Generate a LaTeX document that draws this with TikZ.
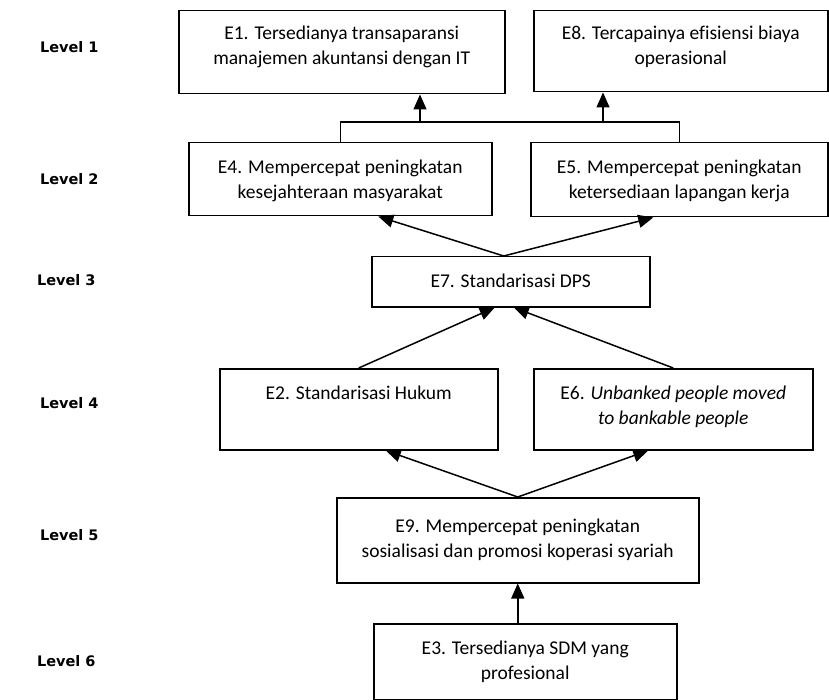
\documentclass[tikz,border=0pt]{standalone}
\usepackage{fontspec}
\setmainfont[Ligatures=CommonOff]{Carlito}
\newfontfamily\levelfont{DejaVu Sans}
\usetikzlibrary{arrows.meta}

% isi kotak: [jarak baris pertama]{lebar}{tinggi}{teks}
\newcommand{\isi}[4][31pt]{\parbox[c][#3][t]{#2}{\centering\rule{0pt}{#1}#4}}

\tikzset{
  kotak/.style={draw,line width=1.5pt,inner sep=0pt,anchor=north west,
    font=\fontsize{19.5}{25}\selectfont},
  level/.style={anchor=west,font=\levelfont\bfseries\fontsize{14.5}{16}\selectfont},
}

\begin{document}
\begin{tikzpicture}[x=1pt,y=-1pt,>={Triangle[length=15pt,width=13pt]},line width=1.5pt]
  \useasboundingbox (0,0) rectangle (829,700);
  % level
  \node[level] (lv1) at (36,47) {Level 1};
  \node[level] (lv2) at (36,179) {Level 2};
  \node[level] (lv3) at (33,280) {Level 3};
  \node[level] (lv4) at (36,403) {Level 4};
  \node[level] (lv5) at (36,535) {Level 5};
  \node[level] (lv6) at (33,661) {Level 6};
  % kotak
  \node[kotak] (e1) at (178,10) {\isi[29pt]{326pt}{83pt}{E1. Tersedianya transaparansi\\manajemen akuntansi dengan IT}};
  \node[kotak] (e8) at (533,10) {\isi[29pt]{294pt}{81pt}{E8. Tercapainya efisiensi biaya\\operasional}};
  \node[kotak] (e4) at (188,142) {\isi{303pt}{73pt}{E4. Mempercepat peningkatan\\kesejahteraan masyarakat}};
  \node[kotak] (e5) at (530,142) {\isi{297pt}{74pt}{E5. Mempercepat peningkatan\\ketersediaan lapangan kerja}};
  \node[kotak] (e7) at (371,256) {\isi{278pt}{50pt}{E7. Standarisasi DPS}};
  \node[kotak] (e2) at (219,368) {\isi{278pt}{81pt}{E2. Standarisasi Hukum}};
  \node[kotak] (e6) at (533,368) {\isi{279pt}{81pt}{E6. \textit{Unbanked people moved}\\\textit{to bankable people}}};
  \node[kotak] (e9) at (336,497) {\isi[35pt]{362pt}{85pt}{E9. Mempercepat peningkatan\\sosialisasi dan promosi koperasi syariah}};
  \node[kotak] (e3) at (373,623) {\isi{303pt}{76pt}{E3. Tersedianya SDM yang\\profesional}};
  % panah
  \draw (e4.north) -- ++(0,-20) -| (e5.north);
  \coordinate (ke1) at (420,122);
  \coordinate (ke8) at (603,122);
  \draw[->] (ke1) -- (ke1 |- e1.south);
  \draw[->] (ke8) -- (ke8 |- e8.south);
  \draw[->] ([xshift=-7pt]e7.north) -- ([xshift=38pt]e4.south);
  \draw[->] ([xshift=-7pt]e7.north) -- ([xshift=-26pt]e5.south);
  \draw[->] (e2.north) -- ([xshift=-16pt]e7.south);
  \draw[->] (e6.north) -- ([xshift=3pt]e7.south);
  \draw[->] (e9.north) -- ([xshift=27pt]e2.south);
  \draw[->] (e9.north) -- ([xshift=-25pt]e6.south);
  \draw[->] (e3.north -| e9.south) -- (e9.south);
\end{tikzpicture}
\end{document}
